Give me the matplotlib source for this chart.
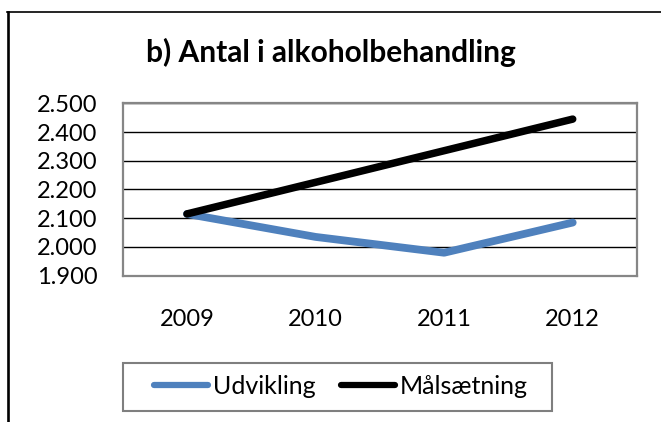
import numpy as np
import matplotlib
matplotlib.use("Agg")
import matplotlib.pyplot as plt
from matplotlib.lines import Line2D
from matplotlib.patches import Rectangle

plt.rcParams['font.family'] = ['Lato', 'DejaVu Sans']

years = ["2009", "2010", "2011", "2012"]
udvikling = [2115, 2035, 1980, 2085]
maalsaetning = [2115, 2225, 2335, 2445]
yticks = [1900, 2000, 2100, 2200, 2300, 2400, 2500]
ytick_labels = ["1.900", "2.000", "2.100", "2.200", "2.300", "2.400", "2.500"]

W, H = 661, 422
fig = plt.figure(figsize=(W / 100, H / 100), dpi=100)

# plot area in pixels: x 122.7-637, y 103.3-275.7
ax = fig.add_axes([122.7 / W, 1 - 275.7 / H, (637 - 122.7) / W, (275.7 - 103.3) / H])

x = np.arange(len(years))
ax.plot(x, udvikling, color="#4F81BD", lw=5.6, solid_capstyle="round",
        solid_joinstyle="round", label="Udvikling", zorder=3)
ax.plot(x, maalsaetning, color="black", lw=5.4, solid_capstyle="round",
        solid_joinstyle="round", label="Målsætning", zorder=4)

ax.set_xlim(-0.5, 3.5)
ax.set_ylim(1900, 2500)
ax.set_yticks(yticks)
ax.set_yticklabels(ytick_labels)
ax.set_xticks(x)
ax.set_xticklabels(years)
ax.tick_params(axis="y", length=0, pad=18, labelsize=17)
ax.tick_params(axis="x", length=0, pad=24, labelsize=17)
ax.grid(axis="y", color="black", lw=1.0, zorder=1)
for s in ax.spines.values():
    s.set_color("#868686")
    s.set_linewidth(1.6)

fig.text(0.5, 1 - 52 / H, "b) Antal i alkoholbehandling", ha="center", va="center",
         fontsize=21.5, fontweight="bold")

# legend box drawn by hand, legend itself without frame
fig.add_artist(Rectangle((122.7 / W, 1 - 410.7 / H), (551.7 - 122.7) / W, 48 / H,
                         transform=fig.transFigure, fill=False,
                         edgecolor="#7f7f7f", lw=1.5))
leg = fig.legend(loc="center", bbox_to_anchor=(341 / W, 1 - 386.7 / H), ncol=2,
                 fontsize=18, frameon=False, handlelength=2.15,
                 handletextpad=0.2, columnspacing=1.0, borderpad=0.0)
for h in leg.get_lines():
    h.set_linewidth(4.5)

# outer frame (left and top only visible)
fig.add_artist(Line2D([8 / W, 8 / W], [0, 1 - 11.7 / H], color="black", lw=1.9,
                      transform=fig.transFigure))
fig.add_artist(Line2D([7 / W, 1], [1 - 11.7 / H, 1 - 11.7 / H], color="black", lw=1.2,
                      transform=fig.transFigure))

fig.savefig("out.png", dpi=100)
